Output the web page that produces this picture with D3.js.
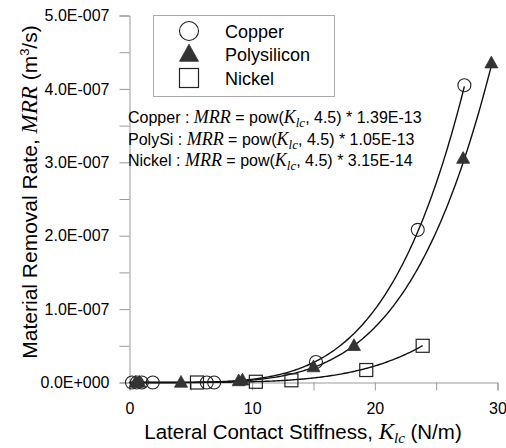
<!DOCTYPE html>
<html><head><meta charset="utf-8">
<script src="https://cdn.jsdelivr.net/npm/d3@7/dist/d3.min.js"></script>
<style>
body{margin:0;background:#fff;}
text{font-family:"Liberation Sans",Arial,sans-serif;fill:#000;}
</style></head>
<body><svg id="c" width="506" height="448"></svg>
<script>
// ---- data ----
const seriesNames = ["Copper", "Polysilicon", "Nickel"];
const copperK   = [0.2, 0.6, 1.0, 1.9, 6.3, 6.9, 15.2, 23.5, 27.3];
const copperMRR = [0, 0, 0, 0, 0, 0, 2.8e-8, 2.08e-7, 4.05e-7];
const polyK     = [0.5, 0.8, 4.2, 8.9, 9.2, 15.0, 18.3, 27.2, 29.5];
const polyMRR   = [0, 0, 0, 0.2e-8, 0.3e-8, 2.1e-8, 5.0e-8, 3.05e-7, 4.35e-7];
const nickelK   = [5.5, 10.3, 13.2, 19.3, 23.9];
const nickelMRR = [0, 0.1e-8, 0.3e-8, 1.7e-8, 5.0e-8];
// fitted model printed on the chart: MRR = pow(K, 4.5) * coef
const fitLabels = ["Copper", "PolySi", "Nickel"];
const fitExponent = 4.5;
const fitCoefs = [1.39e-13, 1.05e-13, 3.15e-14];
const fitCoefText = ["1.39E-13", "1.05E-13", "3.15E-14"];
const fitRangeMax = [27.3, 29.5, 23.9];
const xTicks = [0, 5, 10, 15, 20, 25, 30];
const xTickLabels = ["0", "", "10", "", "20", "", "30"];
const yTicks = [0, 0.5e-7, 1e-7, 1.5e-7, 2e-7, 2.5e-7, 3e-7, 3.5e-7, 4e-7, 4.5e-7, 5e-7];
const yTickLabels = ["0.0E+000", "", "1.0E-007", "", "2.0E-007", "", "3.0E-007", "", "4.0E-007", "", "5.0E-007"];

const svg = d3.select("#c");
const x = d3.scaleLinear().domain([0, 30]).range([129.5, 497.5]);
const y = d3.scaleLinear().domain([0, 5e-7]).range([382.5, 15.5]);
const axisColor = "#999";
const serif = "'Liberation Serif','Times New Roman',serif";

// axes
const xAxis = d3.axisBottom(x).tickValues(xTicks).tickSize(8).tickPadding(12)
  .tickFormat((d, i) => xTickLabels[i]);
const gx = svg.append("g").attr("transform", "translate(0,382.5)").call(xAxis);
const yAxis = d3.axisLeft(y).tickValues(yTicks).tickSize(10).tickPadding(10)
  .tickFormat((d, i) => yTickLabels[i]);
const gy = svg.append("g").attr("transform", "translate(129.5,0)").call(yAxis);
[gx, gy].forEach(g => {
  g.attr("font-size", null).attr("font-family", null);
  g.select(".domain").attr("stroke", axisColor);
  g.selectAll(".tick line").attr("stroke", axisColor);
  g.selectAll(".tick text").attr("fill", "#000").style("font-size", "16px")
    .style("font-family", "'Liberation Sans',Arial,sans-serif");
});

// fit curves
const line = d3.line().x(d => x(d[0])).y(d => y(d[1]));
fitCoefs.forEach((c, i) => {
  const pts = d3.range(0, fitRangeMax[i] + 1e-9, fitRangeMax[i] / 200).map(k => [k, Math.pow(k, fitExponent) * c]);
  svg.append("path").attr("d", line(pts)).attr("fill", "none").attr("stroke", "#111").attr("stroke-width", 1.4);
});

// markers
function marker(g, type, cx, cy, s) {
  if (type === 0) {
    g.append("circle").attr("cx", cx).attr("cy", cy).attr("r", s)
      .attr("fill", "none").attr("stroke", "#222").attr("stroke-width", 1.1);
  } else if (type === 1) {
    const h = s * 1.8;
    g.append("path").attr("d", `M${cx},${cy - h * 0.6}L${cx + s},${cy + h * 0.4}L${cx - s},${cy + h * 0.4}Z`)
      .attr("fill", "#333").attr("stroke", "#333").attr("stroke-width", 0.8);
  } else {
    g.append("rect").attr("x", cx - s).attr("y", cy - s).attr("width", 2 * s).attr("height", 2 * s)
      .attr("fill", "none").attr("stroke", "#222").attr("stroke-width", 1.2);
  }
}
const mg = svg.append("g");
copperK.forEach((k, i) => marker(mg, 0, x(k), y(copperMRR[i]), 6.5));
polyK.forEach((k, i) => marker(mg, 1, x(k), y(polyMRR[i]), 6.5));
nickelK.forEach((k, i) => marker(mg, 2, x(k), y(nickelMRR[i]), 6.5));

// legend
const lg = svg.append("g");
lg.append("rect").attr("x", 153.5).attr("y", 15.5).attr("width", 181).attr("height", 81)
  .attr("fill", "#fff").attr("stroke", "#aaa").attr("stroke-width", 1);
seriesNames.forEach((n, i) => {
  const cy = 31 + i * 23.5;
  marker(lg, i, 189, cy, 9.5);
  lg.append("text").attr("x", 225).attr("y", cy + 6.5).style("font-size", "18px").text(n);
});

// equations
fitLabels.forEach((lab, i) => {
  const t = svg.append("text").attr("x", 128).attr("y", 123 + i * 21.5).style("font-size", "16px");
  t.append("tspan").text(lab + " : ");
  t.append("tspan").style("font-family", serif).style("font-style", "italic").style("font-size", "18px").text("MRR");
  t.append("tspan").text(" = pow(");
  t.append("tspan").style("font-family", serif).style("font-style", "italic").style("font-size", "18px").text("K");
  t.append("tspan").style("font-family", serif).style("font-style", "italic").style("font-size", "13px").attr("dy", 4).text("lc");
  t.append("tspan").attr("dy", -4).text(", " + fitExponent + ") * " + fitCoefText[i]);
});

// axis titles
const xt = svg.append("text").attr("x", 303).attr("y", 439).attr("text-anchor", "middle").style("font-size", "20.5px");
xt.append("tspan").text("Lateral Contact Stiffness, ");
xt.append("tspan").style("font-family", serif).style("font-style", "italic").style("font-size", "23px").text("K");
xt.append("tspan").style("font-family", serif).style("font-style", "italic").style("font-size", "15px").attr("dy", 4).text("lc");
xt.append("tspan").attr("dy", -4).text(" (N/m)");

const yt = svg.append("text").attr("transform", "translate(37,192) rotate(-90)").attr("text-anchor", "middle").style("font-size", "21px");
yt.append("tspan").text("Material Removal Rate, ");
yt.append("tspan").style("font-family", serif).style("font-style", "italic").style("font-size", "23px").text("MRR");
yt.append("tspan").text(" (m");
yt.append("tspan").style("font-size", "13px").attr("dy", -8).text("3");
yt.append("tspan").attr("dy", 8).text("/s)");
</script></body></html>
